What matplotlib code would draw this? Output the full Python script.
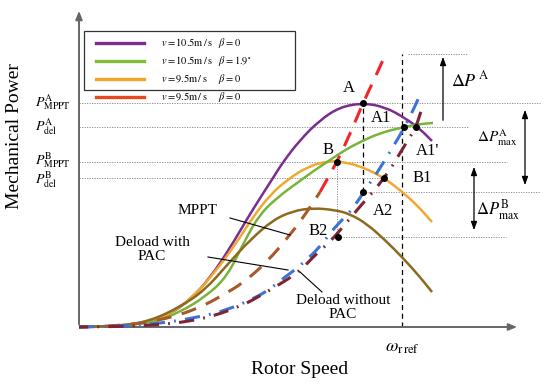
"""
Schematic of rotor speed vs mechanical power: MPPT and deload curves with / without PAC.
Values are read off the reference picture in arbitrary units (speed, power).
"""
import numpy as np
import matplotlib
matplotlib.use("Agg")
import matplotlib.pyplot as plt
from matplotlib.lines import Line2D
from matplotlib.patches import Rectangle, PathPatch
from matplotlib.path import Path

plt.rcParams['font.family'] = ['Liberation Serif', 'DejaVu Serif']
plt.rcParams['mathtext.fontset'] = 'stix'

########################################################################################################################
# Data (arbitrary units)
########################################################################################################################

# power curves, v = 10.5 m/s, beta = 0
speed_a = [0, 41, 71, 91, 111, 131, 151, 168, 183, 194, 204, 221, 241, 261, 284, 306, 326, 341, 353]
power_a = [0, 1, 5, 13, 27, 49, 79, 108, 132, 149, 165, 187, 207, 220, 224, 220, 209, 198, 186]

# v = 10.5 m/s, beta = 1.9 deg
speed_a_pitch = [0, 41, 76, 101, 126, 148, 166, 181, 199, 218, 236, 251, 266, 281, 301, 325, 341, 354]
power_a_pitch = [0, 1, 5, 15, 30, 50, 87, 113, 130, 144, 157, 167, 177, 185, 194, 200, 203, 204]

# v = 9.5 m/s, beta = 0
speed_b = [0, 41, 71, 93, 116, 136, 156, 174, 191, 208, 228, 248, 266, 286, 305, 321, 338, 353]
power_b = [0, 1, 5, 14, 32, 55, 82, 110, 132, 147, 160, 166, 165, 159, 149, 137, 122, 105]

# lower wind curve
speed_c = [0, 41, 71, 101, 126, 148, 171, 194, 214, 234, 256, 271, 288, 306, 324, 341, 353]
power_c = [0, 1, 6, 20, 37, 62, 87, 107, 116, 119, 117, 113, 103, 87, 69, 50, 35]

# MPPT curve
speed_mppt = [0, 36, 71, 101, 126, 144, 164, 188, 211, 228, 241, 258, 271, 284, 294, 304]
power_mppt = [0, 1, 5, 12, 22, 32, 44, 65, 92, 115, 135, 165, 193, 224, 245, 267]

# deload with PAC
speed_pac = [0, 71, 121, 148, 176, 191, 206, 221, 241, 251, 261, 271, 281, 288, 298, 309, 320, 331, 341]
power_pac = [0, 2, 10, 17, 29, 38, 50, 61, 80, 94, 105, 115, 129, 140, 154, 172, 190, 210, 232]

# deload without PAC
speed_nopac = [0, 71, 121, 161, 186, 206, 221, 238, 251, 268, 284, 294, 305, 314, 321, 331, 337, 343]
power_nopac = [0, 1, 7, 20, 34, 46, 56, 74, 85, 105, 124, 135, 149, 162, 174, 190, 200, 219]

# operating points
point_names = ['A', 'A1', "A1'", 'B', 'B1', 'A2', 'B2']
point_speed = [284, 325, 337, 258, 305, 284, 259]
point_power = [224, 200, 200, 165, 149, 135, 90]

w_ref = 323
p_mppt_a, p_del_a, p_mppt_b, p_del_b = 224, 200, 165, 149
p_top, p_a2, p_b2 = 273, 135, 90

level_labels = [r'$P_{\mathrm{MPPT}}^{\mathrm{A}}$', r'$P_{\mathrm{del}}^{\mathrm{A}}$',
                r'$P_{\mathrm{MPPT}}^{\mathrm{B}}$', r'$P_{\mathrm{del}}^{\mathrm{B}}$']

legend_labels = [r'$v=10.5\mathrm{m\,/\,s}\ \ \ \beta=0$',
                 r'$v=10.5\mathrm{m\,/\,s}\ \ \ \beta=1.9^{\circ}$',
                 r'$v=9.5\mathrm{m\,/\,s}\ \ \ \ \ \beta=0$',
                 r'$v=9.5\mathrm{m\,/\,s}\ \ \ \ \ \beta=0$']
legend_colors = ['#7B2D8E', '#82BD3A', '#F2A427', '#E54A1F']

########################################################################################################################
# Helpers
########################################################################################################################

def smooth_curve(ax, xs, ys, **kw):
    """
    Draws the read points as a smooth path: quadratic Bezier pieces through the midpoints,
    with the read points as control points (rendering only, no new data)
    """
    pts = np.column_stack([xs, ys]).astype(float)
    mids = (pts[:-1] + pts[1:]) / 2
    verts = [pts[0], mids[0]]
    codes = [Path.MOVETO, Path.LINETO]
    for i in range(1, len(pts) - 1):
        verts += [pts[i], mids[i]]
        codes += [Path.CURVE3, Path.CURVE3]
    verts.append(pts[-1])
    codes.append(Path.LINETO)
    patch = PathPatch(Path(verts, codes), fill=False, capstyle='butt', **kw)
    ax.add_patch(patch)
    return patch

########################################################################################################################
# Plot
########################################################################################################################

fig = plt.figure(figsize=(5.5, 3.84), dpi=100)
ax = fig.add_axes([0, 0, 1, 1])
ax.set_xlim(-79, 471)
ax.set_ylim(-57, 327)
ax.axis('off')

grey = '#666666'
ref = dict(color='#808080', lw=0.6, ls=(0, (1.5, 1.5)), zorder=1)

# reference levels
ax.plot([0, 461], [p_mppt_a] * 2, **ref)
ax.plot([0, 390], [p_del_a] * 2, **ref)
ax.plot([0, 428], [p_mppt_b] * 2, **ref)
ax.plot([0, 305], [p_del_b] * 2, **ref)
ax.plot([329, 388], [p_top] * 2, **ref)
ax.plot([284, 461], [p_a2] * 2, **ref)
ax.plot([259, 427], [p_b2] * 2, **ref)
ax.plot([258, 258], [p_b2, p_mppt_b], **ref)
ax.plot([284, 284], [p_a2, p_mppt_a], color='black', lw=0.9, ls=(0, (4, 3)), zorder=1)
ax.plot([w_ref, w_ref], [0, p_top], color='black', lw=0.9, ls=(0, (4, 3)), zorder=1)

# axes with arrows
ax.annotate('', xy=(441, 0), xytext=(0, 0),
            arrowprops=dict(arrowstyle='-|>,head_length=0.5,head_width=0.2', color=grey, lw=1.4))
ax.annotate('', xy=(0, 319), xytext=(0, 0),
            arrowprops=dict(arrowstyle='-|>,head_length=0.5,head_width=0.2', color=grey, lw=1.4))

# power curves
smooth_curve(ax, speed_a, power_a, edgecolor='#7B2D8E', lw=1.8, zorder=3)
smooth_curve(ax, speed_b, power_b, edgecolor='#F0A830', lw=1.8, zorder=3)
smooth_curve(ax, speed_a_pitch, power_a_pitch, edgecolor='#78B43C', lw=1.8, zorder=3)
smooth_curve(ax, speed_c, power_c, edgecolor='#8C6A1E', lw=1.8, zorder=3)

# MPPT / deload trajectories
smooth_curve(ax, speed_mppt[:11], power_mppt[:11], edgecolor='#A8592A', lw=2.2, ls=(0, (5, 3.5)), zorder=4)
smooth_curve(ax, speed_mppt[10:], power_mppt[10:], edgecolor='#F2262A', lw=2.2, ls=(0, (5, 3.5)), zorder=4)
smooth_curve(ax, speed_pac, power_pac, edgecolor='#3C74D6', lw=2.2, ls=(0, (5, 3, 0.6, 3)), zorder=4)
smooth_curve(ax, speed_nopac, power_nopac, edgecolor='#7D2535', lw=2.2, ls=(2, (5, 3, 0.6, 3)), zorder=4)

ax.scatter(point_speed, point_power, s=16, color='black', zorder=6)

label_pos = {'A': (270, 239), 'A1': (302, 209), "A1'": (349, 176), 'B': (249, 177),
             'B1': (343, 149), 'A2': (304, 116), 'B2': (239, 96)}
for name in point_names:
    ax.text(*label_pos[name], name, fontsize=12, ha='center', va='center', zorder=7)

# level tick labels
for lab, lev in zip(level_labels, [p_mppt_a + 1, p_del_a, p_mppt_b + 2, p_del_b - 2]):
    ax.text(-44, lev, lab, fontsize=10, ha='left', va='center')

# delta P arrows
ax.annotate('', xy=(364, p_top), xytext=(364, 204),
            arrowprops=dict(arrowstyle='-|>,head_length=0.5,head_width=0.18', color='black', lw=0.9))
ax.annotate('', xy=(446, 220), xytext=(446, 139),
            arrowprops=dict(arrowstyle='<|-|>,head_length=0.5,head_width=0.18', color='black', lw=0.9))
ax.annotate('', xy=(395, 163), xytext=(395, 94),
            arrowprops=dict(arrowstyle='<|-|>,head_length=0.5,head_width=0.18', color='black', lw=0.9))
ax.text(391, 247, r'$\Delta P^{\,\mathrm{A}}$', fontsize=13, ha='center', va='center')
ax.text(418, 189, r'$\Delta P_{\mathrm{max}}^{\mathrm{A}}$', fontsize=11, ha='center', va='center')
ax.text(419, 117, r'$\Delta P_{\mathrm{max}}^{\mathrm{B}}$', fontsize=12, ha='center', va='center')

# curve annotations with leader lines
ax.plot([151, 211], [109, 92], color='black', lw=0.8, zorder=5)
ax.plot([129, 209], [70, 57], color='black', lw=0.8, zorder=5)
ax.plot([221, 243], [55, 35], color='black', lw=0.8, zorder=5)
ax.text(118, 116, 'MPPT', fontsize=11, ha='center', va='center')
ax.text(73, 77, 'Deload with\nPAC', fontsize=11, ha='center', va='center', linespacing=1.1)
ax.text(264, 20, 'Deload without\nPAC', fontsize=11, ha='center', va='center', linespacing=1.1)

# axis titles
ax.text(w_ref, -20, r'$\omega_{\mathrm{r\,ref}}$', fontsize=13, ha='center', va='center')
ax.text(221, -43, 'Rotor Speed', fontsize=14, ha='center', va='center')
ax.text(-64, 191, 'Mechanical Power', fontsize=14, ha='center', va='center', rotation=90)

# legend
handles = [Line2D([], [], color=c, lw=2.4) for c in legend_colors]
ax.add_patch(Rectangle((5, 237), 211, 59, fill=False, edgecolor='#333333', lw=0.9, zorder=5))
ax.legend(handles, legend_labels, loc='upper left', bbox_to_anchor=(0.175, 0.905), frameon=False,
          fontsize=7.5, handlelength=4.6, handletextpad=1.6, labelspacing=0.38, borderaxespad=0,
          borderpad=0)

fig.savefig('out.png', dpi=100)
